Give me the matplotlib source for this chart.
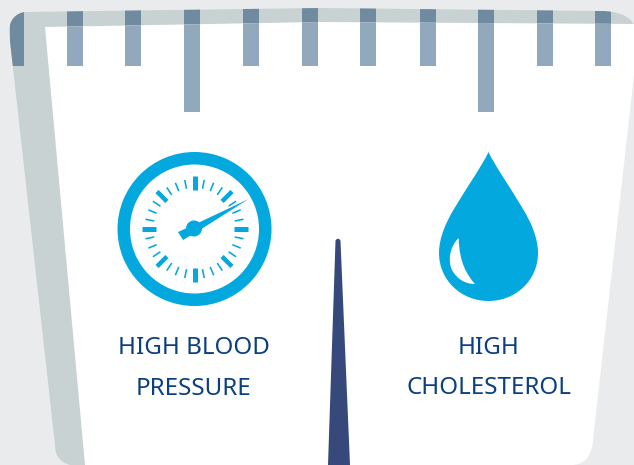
import numpy as np
import matplotlib
matplotlib.use('Agg')
import matplotlib.pyplot as plt
from matplotlib.patches import PathPatch, Polygon, Circle, Wedge
from matplotlib.path import Path

# scale ticks along the top
tick_x = [17, 75, 133, 192, 251, 310, 368, 428, 486, 545, 603]
tick_len = [66, 66, 66, 112, 66, 66, 66, 66, 112, 66, 66]
tick_w = [14, 16, 16, 16, 16, 16, 16, 16, 16, 16, 16]

label_left = ["HIGH BLOOD", "PRESSURE"]
label_right = ["HIGH", "CHOLESTEROL"]

BG = '#E9EBEC'
BAND = '#C9D2D3'
TICK_LIGHT = '#92A8BC'
TICK_DARK = '#708A9F'
NAVY = '#37497B'
CYAN = '#03A8DF'
TEXT = '#0A3F80'

px = 72 / 100  # one pixel in points

fig = plt.figure(figsize=(6.34, 4.65), dpi=100, facecolor=BG)
ax = fig.add_axes([0, 0, 1, 1])
ax.set_xlim(0, 634)
ax.set_ylim(465, 0)
ax.axis('off')

M, L, C, Z = Path.MOVETO, Path.LINETO, Path.CURVE4, Path.CLOSEPOLY

# grey body of the scale
outer = Path(
    [(9, 32), (9, 20), (16, 13), (25, 12), (320, 8), (600, 11),
     (618, 11), (630, 16), (634, 25), (634, 75), (575, 440), (570, 465), (70, 465),
     (60, 462), (55, 456), (55, 445), (9, 32)],
    [M, C, C, C, L, L, C, C, C, L, L, L, L, C, C, C, Z])
outer_patch = PathPatch(outer, fc=BAND, ec='none', zorder=1)
ax.add_patch(outer_patch)

# dark part of ticks, seen over the grey band
dark = ax.bar(tick_x, tick_len, width=tick_w, bottom=0, color=TICK_DARK, zorder=2)
for b in dark:
    b.set_clip_path(outer_patch)

# white face
face = Path(
    [(45, 27), (320, 22), (634, 24), (634, 75), (593, 440),
     (592, 455), (585, 465), (572, 465), (85, 465), (45, 27)],
    [M, L, L, L, L, C, C, C, L, Z])
face_patch = PathPatch(face, fc='white', ec='none', zorder=3)
ax.add_patch(face_patch)

light = ax.bar(tick_x, tick_len, width=tick_w, bottom=0, color=TICK_LIGHT, zorder=4)
for b in light:
    b.set_clip_path(face_patch)

# pointer of the scale
pointer = Path(
    [(328, 465), (335.5, 241), (336, 238), (340, 238), (340.5, 241), (350, 465), (328, 465)],
    [M, L, C, C, C, L, Z])
ax.add_patch(PathPatch(pointer, fc=NAVY, ec='none', zorder=5))

# gauge icon
cx, cy = 194.5, 229
ax.add_patch(Wedge((cx, cy), 77, 0, 360, width=12.5, fc=CYAN, ec='none', zorder=5))
for i in range(32):
    a = np.deg2rad(i * 11.25)
    if i % 8 == 0:
        r0, r1, w = 39, 53, 5
    elif i % 4 == 0:
        r0, r1, w = 39, 53, 4.5
    else:
        r0, r1, w = 41, 50, 1.6
    ax.plot([cx + r0 * np.sin(a), cx + r1 * np.sin(a)],
            [cy - r0 * np.cos(a), cy - r1 * np.cos(a)],
            color=CYAN, lw=w * px, solid_capstyle='butt', zorder=6)

hand = [(248.7, 199), (200, 222), (178, 232), (183, 240), (203, 228)]
ax.add_patch(Polygon(hand, closed=True, fc=CYAN, ec='white', lw=2.5 * px, zorder=7))
ax.add_patch(Polygon(hand, closed=True, fc=CYAN, ec='none', zorder=8))
ax.add_patch(Circle((194, 228.5), 8, fc=CYAN, ec='none', zorder=8))

# drop icon
drop = Path(
    [(488.5, 152), (495, 166), (510, 187), (523, 209),
     (531, 222), (538, 238), (538, 253),
     (538, 280), (516, 301), (488.5, 301),
     (461, 301), (439, 280), (439, 253),
     (439, 238), (446, 222), (454, 209),
     (467, 187), (482, 166), (488.5, 152), (488.5, 152)],
    [M] + [C] * 18 + [Z])
ax.add_patch(PathPatch(drop, fc=CYAN, ec='none', zorder=5))
shine = Path(
    [(458.7, 238), (449, 247), (448, 262), (452, 270),
     (457, 279), (465, 284), (475, 284),
     (467, 275), (459, 262), (458.7, 238), (458.7, 238)],
    [M] + [C] * 9 + [Z])
ax.add_patch(PathPatch(shine, fc='white', ec='none', zorder=6))

# labels
font = dict(family='Noto Sans', fontsize=17.4, color=TEXT, ha='center', va='baseline', zorder=9)
ax.text(194, 354, label_left[0], **font)
ax.text(194, 395, label_left[1], **font)
ax.text(489, 353.5, label_right[0], **font)
ax.text(489, 394, label_right[1], **font)

fig.savefig('out.png', dpi=100, facecolor=BG)
